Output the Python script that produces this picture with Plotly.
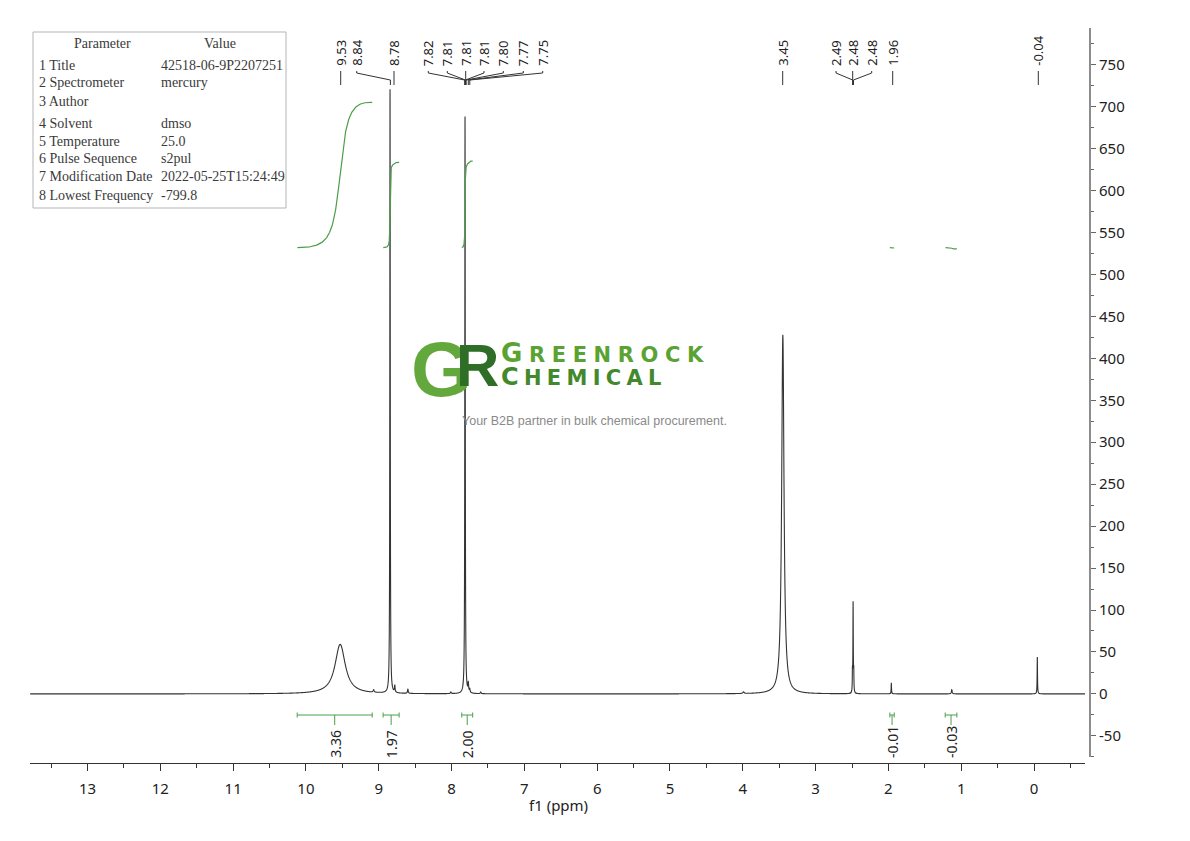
import numpy as np
import plotly.graph_objects as go

# ---------------- data ----------------
# spectrum peaks (ppm, height, half width at half max in ppm)
peak_ppm = [9.53, 9.07, 8.845, 8.78, 8.60, 8.01, 7.815, 7.77, 7.75, 7.60, 3.99,
            3.45, 2.494, 2.485, 2.476, 1.96, 1.13, -0.045]
peak_height = [59, 3, 720, 8, 5, 2, 688, 10, 4, 2, 2,
               428, 22, 107, 22, 13, 5, 44]
peak_hwhm = [0.085, 0.008, 0.0035, 0.005, 0.006, 0.006, 0.0036, 0.005, 0.005, 0.006, 0.01,
             0.019, 0.0025, 0.003, 0.0025, 0.003, 0.006, 0.003]

# peak picking labels
label_text = ["9.53", "8.84", "8.78", "7.82", "7.81", "7.81", "7.81", "7.80", "7.77", "7.75",
              "3.45", "2.49", "2.48", "2.48", "1.96", "-0.04"]
label_ppm = [9.53, 8.84, 8.78, 7.82, 7.81, 7.81, 7.81, 7.80, 7.77, 7.75,
             3.45, 2.49, 2.48, 2.48, 1.96, -0.04]

# integrals
integral_from = [10.12, 8.94, 7.86, 1.98, 1.22]
integral_to = [9.09, 8.72, 7.71, 1.92, 1.06]
integral_value = ["3.36", "1.97", "2.00", "-0.01", "-0.03"]

# parameter table
param_names = ["1 Title", "2 Spectrometer", "3 Author", "4 Solvent", "5 Temperature",
               "6 Pulse Sequence", "7 Modification Date", "8 Lowest Frequency"]
param_values = ["42518-06-9P2207251", "mercury", "", "dmso", "25.0",
                "s2pul", "2022-05-25T15:24:49", "-799.8"]

x_ticks = list(range(0, 14))
y_ticks = list(range(-50, 800, 50))

# ---------------- layout geometry (pixels of the page) ----------------
FIG_W, FIG_H = 1190, 841
OFF = 8               # default body margin of the html page
PL, PR, PT, PB = 30, 1090, 28, 763
X_END = 1085          # right end of the x axis line
Y_BOT = 757           # bottom end of the y axis line
XR = [13.79, -0.70]
PX_PER_UNIT = 0.839
YR = [-75.2, -75.2 + (Y_BOT - PT) / PX_PER_UNIT]

label_px = [340.7, 356.7, 394.0, 428.3, 447.3, 465.7, 484.0, 503.3, 523.3, 542.7,
            782.7, 836.0, 852.7, 871.7, 892.7, 1038.3]
table_rows_py = [65, 83, 101, 123.5, 141, 159, 176.5, 195]


def px2ppm(px):
    return XR[0] + (px - PL) / (X_END - PL) * (XR[1] - XR[0])


def ppm2px(p):
    return PL + (p - XR[0]) / (XR[1] - XR[0]) * (X_END - PL)


def py2val(py):
    return YR[0] + (Y_BOT - py) / (Y_BOT - PT) * (YR[1] - YR[0])


def fx(px):
    return (px - PL) / (PR - PL)


def fy(py):
    return (PB - py) / (PB - PT)


# ---------------- spectrum ----------------
parts = [np.arange(XR[1], XR[0], 0.004)]
for p, w in zip(peak_ppm, peak_hwhm):
    span = max(0.06, 12 * w)
    step = min(w / 8, 0.002)
    parts.append(np.arange(p - span, p + span, step))
xs = np.unique(np.concatenate(parts))
xs = xs[(xs >= XR[1]) & (xs <= XR[0])]
ys = np.zeros_like(xs)
for p, h, w in zip(peak_ppm, peak_height, peak_hwhm):
    ys += h / (1 + ((xs - p) / w) ** 2)

fig = go.Figure()
fig.add_trace(go.Scatter(x=np.round(xs, 5), y=np.round(ys, 3), mode="lines",
                         line=dict(color="#333333", width=1.1, simplify=False),
                         hoverinfo="skip", showlegend=False))

# ---------------- integral curves ----------------
INT_BASE = 532
K = 173 / 3.36
GREEN = "#4b9e48"
for a, b, v in zip(integral_from, integral_to, integral_value):
    m = (xs <= a) & (xs >= b)
    xi = xs[m][::-1]
    yi = ys[m][::-1]
    lin = yi[0] + (yi[-1] - yi[0]) * (xi[0] - xi) / (xi[0] - xi[-1])
    d = yi - lin
    dx = -np.diff(xi)
    cum = np.concatenate([[0], np.cumsum(0.5 * (d[1:] + d[:-1]) * dx)])
    shape = cum / cum[-1] if abs(cum[-1]) > 1e-9 else cum
    fig.add_trace(go.Scatter(x=np.round(xi, 5), y=np.round(INT_BASE + float(v) * K * shape, 3),
                             mode="lines", line=dict(color=GREEN, width=1.2),
                             hoverinfo="skip", showlegend=False))

# integral bars under the baseline
bx, by = [], []
for a, b in zip(integral_from, integral_to):
    mid = (a + b) / 2
    bx += [a, b, None, a, a, None, b, b, None, mid, mid, None]
    by += [py2val(715), py2val(715), None, py2val(712.5), py2val(717.5), None,
           py2val(712.5), py2val(717.5), None, py2val(715), py2val(725), None]
fig.add_trace(go.Scatter(x=bx, y=by, mode="lines", line=dict(color=GREEN, width=1),
                         hoverinfo="skip", showlegend=False))

# ---------------- peak label connectors ----------------
cx, cy = [], []
for lp, p in zip(label_px, label_ppm):
    tp = ppm2px(p)
    if abs(lp - tp) < 1.5:
        cx += [px2ppm(lp), px2ppm(lp), None]
        cy += [py2val(71), py2val(85), None]
    else:
        cx += [px2ppm(lp), px2ppm(lp), p, p, None]
        cy += [py2val(71), py2val(73), py2val(80), py2val(85), None]
fig.add_trace(go.Scatter(x=cx, y=cy, mode="lines", line=dict(color="#333333", width=1),
                         hoverinfo="skip", showlegend=False))

annotations = []
for t, lp in zip(label_text, label_px):
    annotations.append(dict(text=t, x=fx(lp), y=fy(67), xref="paper", yref="paper",
                            xanchor="center", yanchor="bottom", textangle=-90, showarrow=False,
                            font=dict(family="Noto Sans", size=13, color="#222222"),
                            borderpad=0))
for a, b, v in zip(integral_from, integral_to, integral_value):
    mid = (a + b) / 2
    annotations.append(dict(text=v, x=fx(ppm2px(mid)), y=fy(759), xref="paper", yref="paper",
                            xanchor="center", yanchor="bottom", textangle=-90, showarrow=False,
                            font=dict(family="Noto Sans", size=14, color="#222222"),
                            borderpad=0))

# ---------------- parameter table ----------------
TFONT = dict(family="Liberation Serif", size=14, color="#3a3a3a")
annotations.append(dict(text="Parameter", x=fx(102), y=fy(43), xref="paper", yref="paper",
                        xanchor="center", yanchor="middle", showarrow=False, font=TFONT))
annotations.append(dict(text="Value", x=fx(220), y=fy(43), xref="paper", yref="paper",
                        xanchor="center", yanchor="middle", showarrow=False, font=TFONT))
for n, v, py in zip(param_names, param_values, table_rows_py):
    annotations.append(dict(text=n, x=fx(37), y=fy(py), xref="paper", yref="paper",
                            xanchor="left", yanchor="middle", showarrow=False, font=TFONT))
    if v:
        annotations.append(dict(text=v, x=fx(159), y=fy(py), xref="paper", yref="paper",
                                xanchor="left", yanchor="middle", showarrow=False, font=TFONT))
shapes = [dict(type="rect", xref="paper", yref="paper", x0=fx(33), x1=fx(286), y0=fy(208), y1=fy(32),
               line=dict(color="#b5b5b5", width=1))]

# ---------------- watermark logo ----------------
annotations += [
    dict(text="G", x=fx(441), y=fy(369), xref="paper", yref="paper", xanchor="center", yanchor="middle",
         showarrow=False, borderpad=0,
         font=dict(family="Liberation Sans", size=78, color="#63a83c", weight="bold")),
    dict(text="R", x=fx(477), y=fy(365), xref="paper", yref="paper", xanchor="center", yanchor="middle",
         showarrow=False, borderpad=0,
         font=dict(family="Liberation Sans", size=60, color="#2f6e26", weight="bold")),
    dict(text='<span style="letter-spacing:6.6px"><span style="font-size:26px">G</span>REENROCK</span>',
         x=fx(500), y=fy(353), xref="paper", yref="paper", xanchor="left", yanchor="middle",
         showarrow=False, borderpad=0,
         font=dict(family="DejaVu Sans", size=21, color="#5aa232", weight="bold")),
    dict(text='<span style="letter-spacing:5.3px"><span style="font-size:24px">C</span>HEMICAL</span>',
         x=fx(500), y=fy(377), xref="paper", yref="paper", xanchor="left", yanchor="middle",
         showarrow=False, borderpad=0,
         font=dict(family="DejaVu Sans", size=21, color="#43892c", weight="bold")),
    dict(text="Your B2B partner in bulk chemical procurement.", x=fx(594.5), y=fy(421),
         xref="paper", yref="paper", xanchor="center", yanchor="middle", showarrow=False,
         font=dict(family="Liberation Sans", size=12.5, color="#8a8a8a")),
    dict(text="f1 (ppm)", x=fx(558), y=fy(805), xref="paper", yref="paper", xanchor="center",
         yanchor="middle", showarrow=False, font=dict(family="Noto Sans", size=15, color="#222222")),
]

W = FIG_W - 2 * OFF
H = FIG_H - 2 * OFF
fig.update_layout(
    width=W, height=H,
    margin=dict(l=PL - OFF, r=W - (PR - OFF), t=PT - OFF, b=H - (PB - OFF), pad=0),
    paper_bgcolor="white", plot_bgcolor="white",
    showlegend=False,
    annotations=annotations, shapes=shapes,
    xaxis=dict(range=XR, domain=[0, (X_END - PL) / (PR - PL)], anchor="free", position=0,
               showline=True, linecolor="#333333", linewidth=1,
               ticks="outside", ticklen=7, tickcolor="#333333", tickwidth=1,
               tickvals=x_ticks, ticktext=[str(v) for v in x_ticks],
               minor=dict(tickmode="linear", tick0=0.5, dtick=1, ticks="outside", ticklen=4,
                          tickcolor="#333333"),
               ticklabelstandoff=5,
               tickfont=dict(family="Noto Sans", size=15, color="#222222"),
               showgrid=False, zeroline=False),
    yaxis=dict(range=YR, domain=[(PB - Y_BOT) / (PB - PT), 1], side="right", anchor="free", position=1,
               showline=True, linecolor="#8c8c8c", linewidth=2,
               ticks="outside", ticklen=5, tickcolor="#666666", tickwidth=1,
               tickvals=y_ticks, ticktext=[str(v) for v in y_ticks],
               minor=dict(tickmode="linear", tick0=-75, dtick=50, ticks="outside", ticklen=3,
                          tickcolor="#666666"),
               tickfont=dict(family="Noto Sans", size=15, color="#222222"),
               showgrid=False, zeroline=False),
)

fig.write_html("out.html")
